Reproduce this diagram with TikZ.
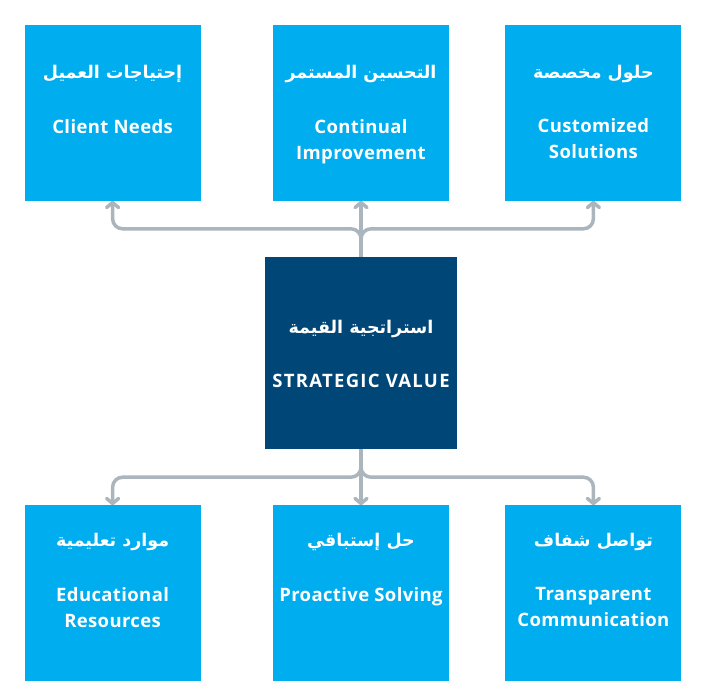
\documentclass[tikz,border=0pt]{standalone}
\usepackage{fontspec}
\setmainfont{Open Sans}[LetterSpace=2]
\newfontfamily\arabicfont[Script=Arabic]{DejaVu Sans}
\newfontfamily\capsfont{Open Sans}[LetterSpace=7]
\TeXXeTstate=1
\usetikzlibrary{arrows.meta, positioning, calc}
\definecolor{skyblue}{HTML}{00ADEE}
\definecolor{navyblue}{HTML}{004677}
\definecolor{linkgray}{HTML}{AAB5BD}
\tikzset{
    box/.style={rectangle, fill=skyblue, minimum width=176pt, minimum height=176pt, inner sep=0pt},
    corebox/.style={box, fill=navyblue, minimum width=192pt, minimum height=192pt},
    artext/.style={font=\arabicfont\bfseries\fontsize{17.5}{20}\selectfont, text=white, inner sep=0pt},
    entext/.style={font=\bfseries\fontsize{18.5}{26}\selectfont, text=white, align=center, inner sep=0pt, anchor=north},
    captext/.style={font=\capsfont\bfseries\fontsize{18.5}{26}\selectfont, text=white, inner sep=0pt, anchor=north},
    link/.style={-{Straight Barb[length=5pt, width=12pt, round]}, line width=3.5pt, draw=linkgray, rounded corners=10pt}
}
\begin{document}
\begin{tikzpicture}
    \useasboundingbox (0,0) rectangle (710pt,-699pt);

    \node (strat) [corebox] at (361pt,-353pt) {};
    \node (cont) [box, above=56pt of strat] {};
    \node (cli) [box, left=72pt of cont] {};
    \node (cus) [box, right=56pt of cont] {};
    \node (proa) [box, below=56pt of strat] {};
    \node (edu) [box, left=72pt of proa] {};
    \node (trans) [box, right=56pt of proa] {};

    \node (stratar) [artext] at ([yshift=-72pt]strat.north) {\beginR استراتجية القيمة\endR};
    \node (straten) [captext] at ([yshift=-117pt]strat.north) {STRATEGIC VALUE};

    \node (cliar) [artext] at ([yshift=-50pt]cli.north) {\beginR إحتياجات العميل\endR};
    \node (clien) [entext] at ([yshift=-95pt]cli.north) {Client Needs};
    \node (contar) [artext] at ([yshift=-50pt]cont.north) {\beginR التحسين المستمر\endR};
    \node (conten) [entext] at ([yshift=-95pt]cont.north) {Continual\\Improvement};
    \node (cusar) [artext] at ([yshift=-50pt]cus.north) {\beginR حلول مخصصة\endR};
    \node (cusen) [entext] at ([yshift=-94pt]cus.north) {Customized\\Solutions};

    \node (eduar) [artext] at ([yshift=-37pt]edu.north) {\beginR موارد تعليمية\endR};
    \node (eduen) [entext] at ([yshift=-82pt]edu.north) {Educational\\Resources};
    \node (proaar) [artext] at ([yshift=-37pt]proa.north) {\beginR حل إستباقي\endR};
    \node (proaen) [entext] at ([yshift=-82pt]proa.north) {Proactive Solving};
    \node (transar) [artext] at ([yshift=-37pt]trans.north) {\beginR تواصل شفاف\endR};
    \node (transen) [entext] at ([yshift=-82pt]trans.north) {Transparent\\Communication};

    \coordinate (jt) at ([yshift=28pt]strat.north);
    \coordinate (jb) at ([yshift=-28pt]strat.south);

    \draw [link] (strat.north) -- (cont.south);
    \draw [link] (strat.north) -- (jt) -| (cli.south);
    \draw [link] (strat.north) -- (jt) -| (cus.south);
    \draw [link] (strat.south) -- (proa.north);
    \draw [link] (strat.south) -- (jb) -| (edu.north);
    \draw [link] (strat.south) -- (jb) -| (trans.north);
\end{tikzpicture}
\end{document}
